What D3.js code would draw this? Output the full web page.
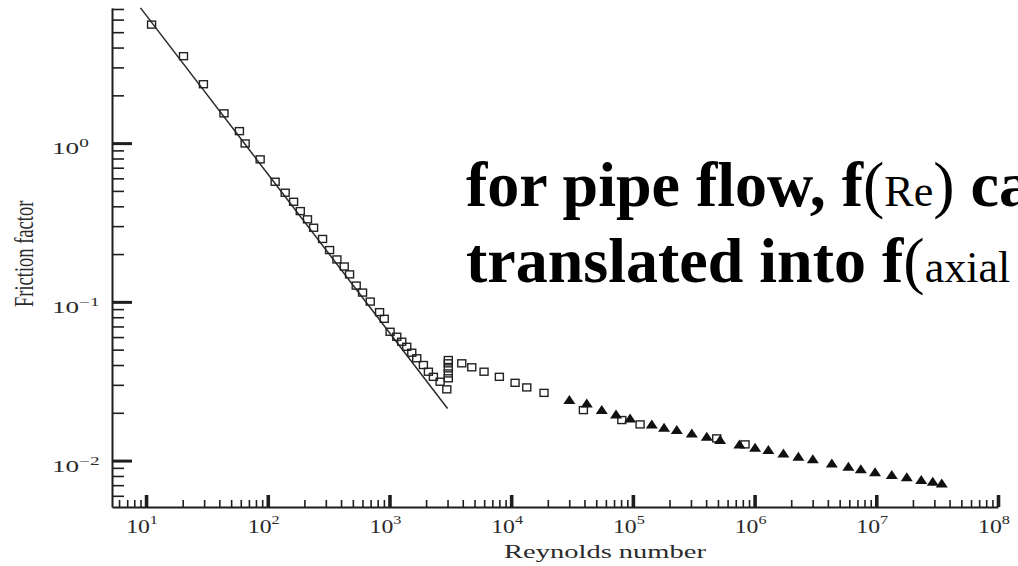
<!DOCTYPE html>
<html>
<head>
<meta charset="utf-8">
<script src="https://cdn.jsdelivr.net/npm/d3@7"></script>
<style>
  html, body { margin: 0; padding: 0; background: #ffffff; overflow: hidden; }
  svg { display: block; }
</style>
</head>
<body>
<svg id="chart" width="1018" height="566"></svg>
<script>
// Measured friction factors, open squares (Reynolds number, f)
const squareRe = [11.1, 20.3, 29.6, 43.7, 58.5, 65.2, 86.6, 115, 139, 163, 185, 212, 238, 282, 322, 370,
  425, 470, 533, 601, 695, 829, 906, 1012, 1148, 1262, 1387, 1525, 1675, 1900, 2089, 2296, 2606, 2958,
  3044, 3044, 3044, 3044, 3044, 3926, 4745, 5986, 7998, 10765, 13430, 18620, 39200, 81100, 114600,
  488600, 835000];
const squareF = [5.58, 3.53, 2.35, 1.54, 1.19, 0.995, 0.79, 0.571, 0.487, 0.427, 0.373, 0.331, 0.293, 0.249,
  0.212, 0.185, 0.167, 0.149, 0.1266, 0.1144, 0.1004, 0.0861, 0.0782, 0.0648, 0.0603, 0.0561, 0.0521, 0.0478,
  0.0441, 0.0400, 0.0363, 0.0337, 0.0314, 0.0281, 0.0430, 0.0410, 0.0381, 0.0354, 0.0330, 0.0410, 0.0387,
  0.0363, 0.0337, 0.0309, 0.0289, 0.0267, 0.0208, 0.0180, 0.0169, 0.0138, 0.01265];

// Measured friction factors, filled triangles (high Reynolds number runs)
const triangleRe = [30060, 41780, 55500, 72700, 94800, 142900, 180300, 229400, 304800, 404800, 520900,
  750600, 1009000, 1298000, 1725000, 2290000, 3010000, 4310000, 5900000, 7460000, 9770000, 13400000,
  17800000, 23400000, 29100000, 34500000];
const triangleF = [0.02405, 0.02291, 0.0208, 0.01954, 0.01844, 0.0169, 0.0161, 0.01556, 0.01483, 0.01413,
  0.01346, 0.01265, 0.01205, 0.01165, 0.0111, 0.01056, 0.01018, 0.0096, 0.00914, 0.00881, 0.00843, 0.00811,
  0.00784, 0.00754, 0.00735, 0.00718];

// Laminar law f = 64/Re, end points of the drawn segment
const laminarRe = [9, 3000];
const laminarF = [7.11, 0.0213];

// Axis extents and tick decades
const xDomain = [5.25, 1e8];
const yDomain = [0.0051, 7.1];
const xTickExponents = [1, 2, 3, 4, 5, 6, 7, 8];
const yTickExponents = [0, -1, -2];

const xTitle = "Reynolds number";
const yTitle = "Friction factor";
const headlineOne = [
  { text: "for pipe flow, f", weight: "bold", size: 64 },
  { text: "(", weight: "normal", size: 64 },
  { text: "Re", weight: "normal", size: 44 },
  { text: ")", weight: "normal", size: 64 },
  { text: " can be", weight: "bold", size: 64 }
];
const headlineTwo = [
  { text: "translated into f", weight: "bold", size: 64 },
  { text: "(", weight: "normal", size: 64 },
  { text: "axial distance", weight: "normal", size: 44 },
  { text: ")", weight: "normal", size: 64 }
];

const svg = d3.select("#chart");
const ink = "#1e1e1e";
const labelInk = "#2a2a2a";
const serif = "'Liberation Serif', 'Times New Roman', serif";

const x = d3.scaleLog().domain(xDomain).range([112, 998]);
const y = d3.scaleLog().domain(yDomain).range([507, 8]);

const sup = n => String(n).replace("-", "\u2212");

// minor tick values 2..9 x 10^k inside the domain
function minorTicks(domain) {
  const out = [];
  const lo = Math.floor(Math.log10(domain[0])), hi = Math.ceil(Math.log10(domain[1]));
  for (let k = lo; k <= hi; k++) {
    for (let m = 2; m <= 9; m++) {
      const v = m * Math.pow(10, k);
      if (v >= domain[0] && v <= domain[1]) out.push(v);
    }
  }
  return out;
}

// ---- x axis ----
const xAxisY = y.range()[0];
const gxMinor = svg.append("g").attr("transform", `translate(0,${xAxisY})`)
  .call(d3.axisBottom(x).tickValues(minorTicks(xDomain)).tickSizeInner(-7).tickSizeOuter(0).tickFormat(""));
gxMinor.select(".domain").attr("stroke", ink).attr("stroke-width", 2);
gxMinor.selectAll(".tick line").attr("stroke", ink).attr("stroke-width", 1.6);

const gxMajor = svg.append("g").attr("transform", `translate(0,${xAxisY})`)
  .call(d3.axisBottom(x).tickValues(xTickExponents.map(e => Math.pow(10, e))).tickSizeInner(-12).tickSizeOuter(0).tickFormat(""));
gxMajor.select(".domain").remove();
gxMajor.selectAll(".tick line").attr("stroke", ink).attr("stroke-width", 3.6);

const xLabels = svg.append("g").attr("font-family", serif).attr("fill", labelInk);
xTickExponents.forEach(e => {
  const t = xLabels.append("text")
    .attr("transform", `translate(${x(Math.pow(10, e)) - 4},533) scale(1.25,1)`)
    .attr("text-anchor", "middle");
  t.append("tspan").attr("font-size", 19).text("10");
  t.append("tspan").attr("font-size", 13).attr("dy", -9).text(sup(e));
});

svg.append("text")
  .attr("transform", `translate(605,558) scale(1.5,1)`)
  .attr("text-anchor", "middle")
  .attr("font-family", serif).attr("font-size", 19).attr("fill", labelInk)
  .text(xTitle);

// ---- y axis ----
const yAxisX = x.range()[0];
const gyMinor = svg.append("g").attr("transform", `translate(${yAxisX},0)`)
  .call(d3.axisLeft(y).tickValues(minorTicks(yDomain)).tickSizeInner(-12).tickSizeOuter(0).tickFormat(""));
gyMinor.select(".domain").attr("stroke", ink).attr("stroke-width", 2);
gyMinor.selectAll(".tick line").attr("stroke", ink).attr("stroke-width", 1.6);

const gyMajor = svg.append("g").attr("transform", `translate(${yAxisX},0)`)
  .call(d3.axisLeft(y).tickValues(yTickExponents.map(e => Math.pow(10, e))).tickSizeInner(-20).tickSizeOuter(0).tickFormat(""));
gyMajor.select(".domain").remove();
gyMajor.selectAll(".tick line").attr("stroke", ink).attr("stroke-width", 3);

const yLabels = svg.append("g").attr("font-family", serif).attr("fill", labelInk);
yTickExponents.forEach(e => {
  const t = yLabels.append("text")
    .attr("transform", `translate(52,${y(Math.pow(10, e)) + 11}) scale(1.6,1)`);
  t.append("tspan").attr("font-size", 17).text("10");
  t.append("tspan").attr("font-size", 12).attr("dy", -7).text(sup(e));
});

svg.append("text")
  .attr("transform", `translate(33,${y(0.1) - 48}) scale(1.5,1) rotate(-90)`)
  .attr("text-anchor", "middle")
  .attr("font-family", serif).attr("font-size", 18.5).attr("fill", labelInk)
  .text(yTitle);

// ---- laminar line ----
svg.append("path")
  .datum(laminarRe.map((r, i) => [r, laminarF[i]]))
  .attr("fill", "none").attr("stroke", "#2a2a2a").attr("stroke-width", 1.5)
  .attr("d", d3.line().x(d => x(d[0])).y(d => y(d[1])));

// ---- open squares ----
svg.append("g").selectAll("rect")
  .data(squareRe.map((r, i) => [r, squareF[i]]))
  .join("rect")
  .attr("x", d => x(d[0]) - 4).attr("y", d => y(d[1]) - 3.5)
  .attr("width", 8).attr("height", 7)
  .attr("fill", "none").attr("stroke", "#222").attr("stroke-width", 1.4);

// ---- filled triangles ----
const tri = d3.path();
tri.moveTo(0, -5); tri.lineTo(6, 4); tri.lineTo(-6, 4); tri.closePath();
svg.append("g").selectAll("path")
  .data(triangleRe.map((r, i) => [r, triangleF[i]]))
  .join("path")
  .attr("transform", d => `translate(${x(d[0])},${y(d[1])})`)
  .attr("d", tri.toString())
  .attr("fill", "#111");

// ---- headline ----
function headline(parts, baseline) {
  const t = svg.append("text").attr("x", 466).attr("y", baseline)
    .attr("font-family", serif).attr("fill", "#000");
  parts.forEach(p => t.append("tspan").attr("font-weight", p.weight).attr("font-size", p.size).text(p.text));
}
headline(headlineOne, 206);
headline(headlineTwo, 282);
</script>
</body>
</html>
